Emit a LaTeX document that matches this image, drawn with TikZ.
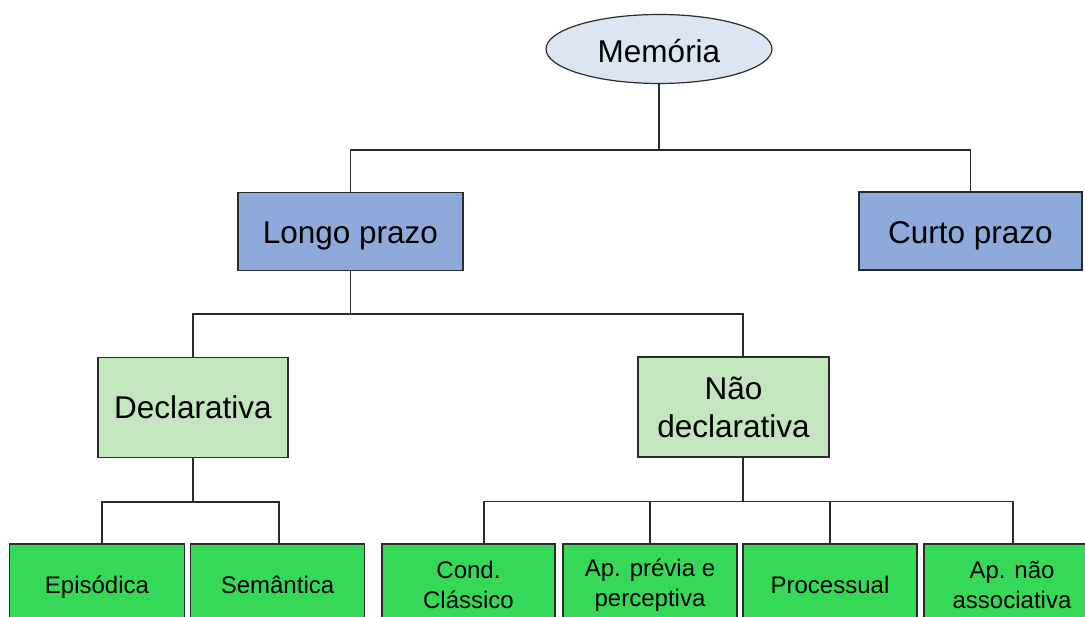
\documentclass[tikz,border=0pt]{standalone}
\usepackage{fontspec}
\setmainfont{Liberation Sans}
\usetikzlibrary{shapes.geometric}
\definecolor{ellfill}{HTML}{DCE6F2}
\definecolor{bluebox}{HTML}{8EAADB}
\definecolor{lightgreen}{HTML}{C4E6BF}
\definecolor{brightgreen}{HTML}{35D957}
\definecolor{edge}{HTML}{2B2B2B}
\tikzset{
  conn/.style={draw=edge, line width=1.2pt},
  base/.style={draw=edge, line width=1.2pt, inner sep=0pt, align=center, text=black},
  topell/.style={base, ellipse, fill=ellfill, minimum width=226pt, minimum height=69pt, font=\fontsize{31.5}{38}\selectfont, text height=28pt, text depth=0pt},
  bluenode/.style={base, rectangle, fill=bluebox, minimum height=78pt, font=\fontsize{31.5}{38}\selectfont, text height=25pt, text depth=0pt},
  midnode/.style={base, rectangle, fill=lightgreen, minimum width=190pt, minimum height=100pt, font=\fontsize{31.5}{38}\selectfont},
  leafnode/.style={base, rectangle, fill=brightgreen, minimum height=78pt, font=\fontsize{24}{30}\selectfont},
  oneline/.style={text height=20pt, text depth=0pt},
  twoline/.style={minimum height=82pt},
}
\begin{document}
\begin{tikzpicture}[x=1pt, y=-1pt]
\useasboundingbox (0,0) rectangle (1085,617);
\clip (0,0) rectangle (1085,617);
\fill[white] (0,0) rectangle (1085,617);

\node[topell] (mem) at (659,49) {Memória};

\node[bluenode, minimum width=225pt] (longo) at (350.5,231.5) {Longo prazo};
\node[bluenode, minimum width=223pt] (curto) at (970.5,231) {Curto prazo};

\node[midnode, text height=23pt, text depth=0pt] (decl) at (193,407.5) {Declarativa};
\node[midnode, minimum width=191pt] (nao) at (733.5,407) {Não\\declarativa};

\node[leafnode, oneline, minimum width=175pt] (epi) at (97,583) {Episódica};
\node[leafnode, oneline, minimum width=174pt] (sem) at (277.5,583) {Semântica};
\node[leafnode, twoline, minimum width=173pt] (cond) at (468.5,585) {Cond.\\Clássico};
\node[leafnode, twoline, minimum width=174pt] (prev) at (650,585) {Ap. prévia e\\perceptiva};
\node[leafnode, oneline, minimum width=174pt] (proc) at (830,583) {Processual};
\node[leafnode, twoline, minimum width=176pt] (assoc) at (1012,585) {Ap. não\\associativa};

% Memória -> Longo / Curto
\draw[conn] (mem.south) -- ++(0,66) coordinate (j1);
\draw[conn] (j1) -| (longo.north);
\draw[conn] (j1) -| (curto.north);

% Longo -> Declarativa / Não declarativa
\draw[conn] (longo.south) -- ++(0,43) coordinate (j2);
\draw[conn] (j2) -| (decl.north);
\draw[conn] (j2) -| ([xshift=9.5pt]nao.north);

% Declarativa -> Episódica / Semântica
\draw[conn] (decl.south) -- ++(0,44) coordinate (j3);
\draw[conn] (j3) -| ([xshift=5pt]epi.north);
\draw[conn] (j3) -| ([xshift=1.5pt]sem.north);

% Não declarativa -> leaves
\draw[conn] ([xshift=9.5pt]nao.south) -- ++(0,44) coordinate (j4);
\draw[conn] (j4) -| ([xshift=15.5pt]cond.north);
\draw[conn] (j4) -| (prev.north);
\draw[conn] (j4) -| (proc.north);
\draw[conn] (j4) -| ([xshift=1pt]assoc.north);
\end{tikzpicture}
\end{document}
